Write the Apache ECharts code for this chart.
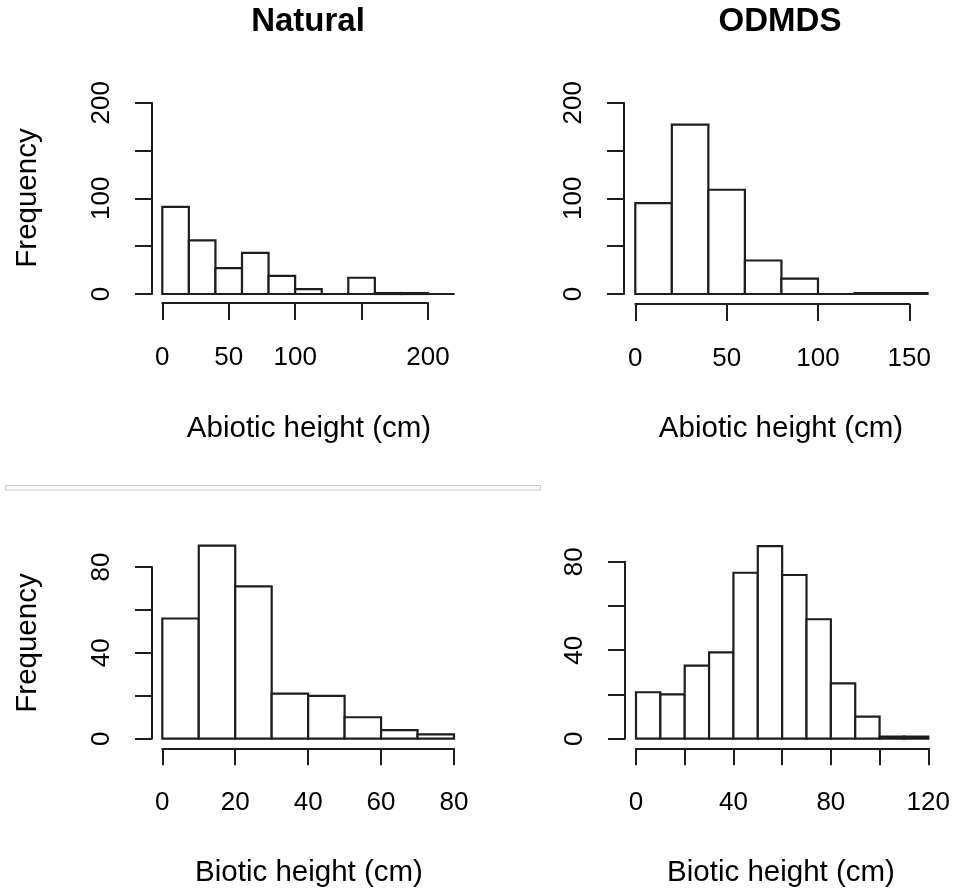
<!DOCTYPE html>
<html>
<head>
<meta charset="utf-8">
<title>Abiotic and biotic height histograms</title>
<script src="https://cdn.jsdelivr.net/npm/echarts@6/dist/echarts.min.js"></script>
<style>
  html, body { margin: 0; padding: 0; background: #ffffff; }
  #chart { width: 956px; height: 892px; }
</style>
</head>
<body>
<div id="chart"></div>
<script>
// Histogram bin edges (cm) and counts for each panel
const naturalAbioticEdges = [0, 20, 40, 60, 80, 100, 120, 140, 160, 180, 200, 220];
const naturalAbioticCounts = [91, 56, 27, 43, 19, 5, 0, 17, 1, 1, 0];

const odmdsAbioticEdges = [0, 20, 40, 60, 80, 100, 120, 140, 160];
const odmdsAbioticCounts = [95, 177, 109, 35, 16, 0, 1, 1];

const naturalBioticEdges = [0, 10, 20, 30, 40, 50, 60, 70, 80];
const naturalBioticCounts = [56, 90, 71, 21, 20, 10, 4, 2];

const odmdsBioticEdges = [0, 10, 20, 30, 40, 50, 60, 70, 80, 90, 100, 110, 120];
const odmdsBioticCounts = [21, 20, 33, 39, 75, 87, 74, 54, 25, 10, 1, 1];

// Axis ranges, tick steps and the tick values that carry a label
const abioticNaturalX = { min: 0, max: 200, step: 50, labels: [0, 50, 100, 200] };
const abioticOdmdsX = { min: 0, max: 150, step: 50, labels: [0, 50, 100, 150] };
const bioticNaturalX = { min: 0, max: 80, step: 20, labels: [0, 20, 40, 60, 80] };
const bioticOdmdsX = { min: 0, max: 120, step: 20, labels: [0, 40, 80, 120] };
const abioticY = { min: 0, max: 200, step: 50, labels: [0, 100, 200] };
const bioticY = { min: 0, max: 80, step: 20, labels: [0, 40, 80] };

// Text
const panelTitles = ['Natural', 'ODMDS'];
const abioticLabel = 'Abiotic height (cm)';
const bioticLabel = 'Biotic height (cm)';
const freqLabel = 'Frequency';

const INK = '#1e1e1e';
const FONT = '"Liberation Sans", Arial, sans-serif';

// Plot boxes: the pixel extent of each axis range
const panels = [
  { left: 162.3, top: 102.7, width: 265.7, height: 191.3, xOff: 9, yOff: 10.3,
    x: abioticNaturalX, y: abioticY, edges: naturalAbioticEdges, counts: naturalAbioticCounts },
  { left: 635.3, top: 102.7, width: 274.0, height: 191.3, xOff: 10, yOff: 11.3,
    x: abioticOdmdsX, y: abioticY, edges: odmdsAbioticEdges, counts: odmdsAbioticCounts },
  { left: 162.3, top: 567.0, width: 291.7, height: 171.7, xOff: 9.6, yOff: 10.3,
    x: bioticNaturalX, y: bioticY, edges: naturalBioticEdges, counts: naturalBioticCounts },
  { left: 636.0, top: 561.7, width: 292.3, height: 177.0, xOff: 9.6, yOff: 11,
    x: bioticOdmdsX, y: bioticY, edges: odmdsBioticEdges, counts: odmdsBioticCounts }
];

function labelFormatter(shown) {
  return function (v) { return shown.indexOf(v) >= 0 ? String(v) : ''; };
}

const lineStyle = { color: INK, width: 2 };

const grids = panels.map(p => ({
  left: p.left, top: p.top, width: p.width, height: p.height,
  containLabel: false, outerBoundsMode: 'none', show: false
}));

const xAxes = panels.map((p, i) => ({
  type: 'value', gridIndex: i, position: 'bottom', offset: p.xOff,
  min: p.x.min, max: p.x.max, interval: p.x.step,
  axisLine: { show: true, onZero: false, lineStyle: lineStyle },
  axisTick: { show: true, inside: false, length: 17, lineStyle: lineStyle },
  axisLabel: { show: true, margin: 42, fontSize: 26, fontFamily: FONT, color: '#000',
    formatter: labelFormatter(p.x.labels), showMinLabel: true, showMaxLabel: true },
  splitLine: { show: false }
}));

const yAxes = panels.map((p, i) => ({
  type: 'value', gridIndex: i, position: 'left', offset: p.yOff,
  min: p.y.min, max: p.y.max, interval: p.y.step,
  axisLine: { show: true, onZero: false, lineStyle: lineStyle },
  axisTick: { show: true, inside: false, length: 17, lineStyle: lineStyle },
  axisLabel: { show: true, rotate: 90, margin: 37, fontSize: 26, fontFamily: FONT, color: '#000',
    formatter: labelFormatter(p.y.labels), showMinLabel: true, showMaxLabel: true },
  splitLine: { show: false }
}));

// One open rectangle per bin, drawn through the panel's own scales
const series = panels.map((p, i) => ({
  type: 'custom', xAxisIndex: i, yAxisIndex: i, clip: false, silent: true,
  data: p.counts.map((c, k) => [p.edges[k], p.edges[k + 1], c]),
  encode: { x: [0, 1], y: 2 },
  renderItem: function (params, api) {
    const a = api.coord([api.value(0), 0]);
    const b = api.coord([api.value(1), api.value(2)]);
    return {
      type: 'rect',
      shape: { x: a[0], y: b[1], width: b[0] - a[0], height: a[1] - b[1] },
      style: { fill: '#ffffff', stroke: INK, lineWidth: 2.2 }
    };
  }
}));

function text(str, x, y, size, weight, rotation) {
  return {
    type: 'text', x: x, y: y, rotation: rotation || 0, silent: true,
    style: { text: str, fontSize: size, fontWeight: weight, fontFamily: FONT,
      fill: '#000', align: 'center', verticalAlign: 'middle' }
  };
}

const graphics = [
  text(panelTitles[0], 308, 22, 33, 'bold'),
  text(panelTitles[1], 780, 22, 33, 'bold'),
  text(abioticLabel, 309, 429, 29.5, 'normal'),
  text(abioticLabel, 781, 429, 29.5, 'normal'),
  text(bioticLabel, 309, 873, 29.5, 'normal'),
  text(bioticLabel, 781, 873, 29.5, 'normal'),
  text(freqLabel, 28, 198, 29.5, 'normal', Math.PI / 2),
  text(freqLabel, 28, 643, 29.5, 'normal', Math.PI / 2),
  // thin double rule between the rows
  { type: 'rect', silent: true,
    shape: { x: 5.5, y: 485.5, width: 535, height: 4.5 },
    style: { fill: 'none', stroke: '#c8c8c8', lineWidth: 1 } }
];

const chart = echarts.init(document.getElementById('chart'), null, { renderer: 'canvas' });
chart.setOption({
  backgroundColor: '#ffffff',
  animation: false,
  grid: grids,
  xAxis: xAxes,
  yAxis: yAxes,
  series: series,
  graphic: graphics
});
</script>
</body>
</html>
